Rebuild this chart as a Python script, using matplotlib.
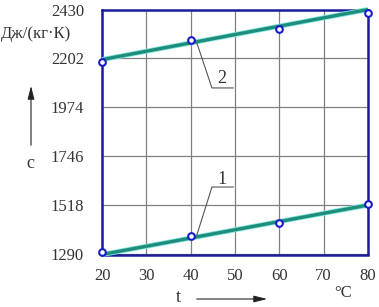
import numpy as np
import matplotlib
matplotlib.use("Agg")
from matplotlib import pyplot as plt

# Data
t_points = [20, 40, 60, 80]
c1_points = [1303, 1377, 1435, 1523]
c2_points = [2188, 2288, 2338, 2415]

# Fitted lines (end values)
t_line = [20, 80]
c1_line = [1290, 1520]
c2_line = [2197, 2430]

x_ticks = [20, 30, 40, 50, 60, 70, 80]
y_ticks = [1290, 1518, 1746, 1974, 2202, 2430]

W, H = 379, 307
DPI = 100

plt.rcParams["font.family"] = ["Liberation Serif", "DejaVu Serif"]

fig = plt.figure(figsize=(W / DPI, H / DPI), dpi=DPI)
ax = fig.add_axes([102 / W, 1 - 254.5 / H, 266 / W, 245 / H])

ax.set_xlim(20, 80)
ax.set_ylim(1290, 2430)
ax.set_xticks(x_ticks)
ax.set_yticks(y_ticks)
ax.grid(True, color="#808080", linewidth=0.9)
ax.set_axisbelow(True)
ax.tick_params(length=0, labelsize=12, colors="#333333")
ax.tick_params(axis="x", pad=10)
ax.tick_params(axis="y", pad=13)

for s in ax.spines.values():
    s.set_color("#1c1c9c")
    s.set_linewidth(1.8)

line_col = "#1f8c7c"
for yv in (c1_line, c2_line):
    ax.plot(t_line, yv, color="#7fe8e0", linewidth=3.6, solid_capstyle="butt",
            zorder=3, clip_on=False)
    ax.plot(t_line, yv, color=line_col, linewidth=2.4, solid_capstyle="butt",
            zorder=4, clip_on=False)

for yv in (c1_points, c2_points):
    ax.plot(t_points, yv, linestyle="none", marker="o", markersize=4.8,
            markerfacecolor="white", markeredgecolor="#1a1acc",
            markeredgewidth=1.5, zorder=5, clip_on=False)

# Leader lines with curve numbers
ax.plot([41.4, 44.8, 49.6], [1381, 1604, 1604], color="#555555", linewidth=0.8, zorder=4)
ax.text(47.1, 1641, "1", ha="center", va="center", fontsize=13, color="#333333")
ax.plot([41.4, 44.8, 49.6], [2274, 2065, 2065], color="#555555", linewidth=0.8, zorder=4)
ax.text(47.1, 2107, "2", ha="center", va="center", fontsize=13, color="#333333")

# Axis labels outside the plot
fig.text(36 / W, 1 - 34 / H, "Дж/(кг·К)", ha="center", va="center",
         fontsize=12, color="#333333")
fig.text(30 / W, 1 - 163 / H, "c", ha="center", va="center",
         fontsize=13, color="#333333")
fig.text(178 / W, 1 - 297 / H, "t", ha="center", va="center",
         fontsize=13, color="#333333")
fig.text(343 / W, 1 - 293 / H, "°C", ha="center", va="center",
         fontsize=12, color="#333333")

arrow = dict(arrowstyle="-|>,head_length=0.8,head_width=0.2", color="#222222", linewidth=0.8)
fig.patches.append(matplotlib.patches.FancyArrowPatch(
    (31 / W, 1 - 148 / H), (31 / W, 1 - 83 / H), transform=fig.transFigure,
    mutation_scale=10, **arrow))
fig.patches.append(matplotlib.patches.FancyArrowPatch(
    (194 / W, 1 - 299 / H), (270 / W, 1 - 299 / H), transform=fig.transFigure,
    mutation_scale=10, **arrow))

fig.savefig("out.png", dpi=DPI)
